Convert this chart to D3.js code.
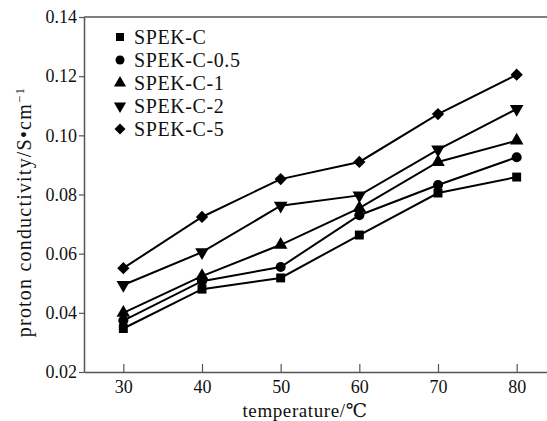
<!DOCTYPE html>
<html>
<head>
<meta charset="utf-8">
<script src="https://cdn.jsdelivr.net/npm/d3@7"></script>
<style>
  body { margin: 0; background: #fff; }
  svg text { font-family: "Liberation Serif", "DejaVu Serif", serif; }
</style>
</head>
<body>
<div id="chart"></div>
<script>
const temps = [30, 40, 50, 60, 70, 80];
const seriesNames = ["SPEK-C", "SPEK-C-0.5", "SPEK-C-1", "SPEK-C-2", "SPEK-C-5"];
const speKC   = [0.0347, 0.0480, 0.0518, 0.0663, 0.0805, 0.0859];
const speKC05 = [0.0374, 0.0507, 0.0555, 0.0730, 0.0832, 0.0926];
const speKC1  = [0.0400, 0.0524, 0.0630, 0.0754, 0.0910, 0.0982];
const speKC2  = [0.0494, 0.0605, 0.0762, 0.0797, 0.0952, 0.1089];
const speKC5  = [0.0551, 0.0724, 0.0852, 0.0910, 0.1072, 0.1205];
const yTicks = [0.02, 0.04, 0.06, 0.08, 0.10, 0.12, 0.14];
const xTicks = [30, 40, 50, 60, 70, 80];

const allSeries = [speKC, speKC05, speKC1, speKC2, speKC5];
// marker shapes: square, circle, triangle up, triangle down, diamond (rotated square)
const symbols = [d3.symbolSquare, d3.symbolCircle, d3.symbolTriangle, d3.symbolTriangle, d3.symbolSquare];
const rotations = [0, 0, 0, 180, 45];
const sizes = [80, 80, 80, 80, 75];

const W = 547, H = 421;
const svg = d3.select("#chart").append("svg")
  .attr("width", W).attr("height", H);

// plot box (right side runs off the canvas)
const x = d3.scaleLinear().domain([25, 85]).range([84, 556]);
const y = d3.scaleLinear().domain([0.02, 0.14]).range([372, 17]);

// top frame line
svg.append("line").attr("x1", x(25)).attr("x2", W).attr("y1", y(0.14)).attr("y2", y(0.14))
  .attr("stroke", "#555").attr("stroke-width", 1.5);

const yAxis = svg.append("g")
  .attr("transform", `translate(${x(25)},0)`)
  .call(d3.axisLeft(y).tickValues(yTicks).tickFormat(d3.format(".2f")).tickSize(5).tickSizeOuter(0));
yAxis.select(".domain").attr("stroke", "#555").attr("stroke-width", 1.5);
yAxis.selectAll(".tick line").attr("stroke", "#555").attr("stroke-width", 1.2);
yAxis.selectAll(".tick text").attr("font-size", "18px").attr("fill", "#111").attr("x", -7);

const xAxis = svg.append("g")
  .attr("transform", `translate(0,${y(0.02)})`)
  .call(d3.axisBottom(x).tickValues(xTicks).tickSize(0).tickSizeOuter(0));
xAxis.select(".domain").attr("stroke", "#555").attr("stroke-width", 1.5);
xAxis.selectAll(".tick line").attr("y2", -8).attr("stroke", "#555").attr("stroke-width", 1.2);
xAxis.selectAll(".tick text").attr("font-size", "18px").attr("fill", "#111").attr("y", 8);

// lines + markers
const line = d3.line().x((d, i) => x(temps[i])).y(d => y(d));
allSeries.forEach((vals, k) => {
  svg.append("path").datum(vals)
    .attr("d", line).attr("fill", "none")
    .attr("stroke", "#000").attr("stroke-width", 2);
  const sym = d3.symbol().type(symbols[k]).size(sizes[k]);
  svg.selectAll(null).data(vals).enter().append("path")
    .attr("d", sym)
    .attr("transform", (d, i) => `translate(${x(temps[i])},${y(d)}) rotate(${rotations[k]})`)
    .attr("fill", "#000");
});

// legend
const legend = svg.append("g").attr("transform", "translate(120,37)");
seriesNames.forEach((name, k) => {
  const g = legend.append("g").attr("transform", `translate(0,${k * 23})`);
  g.append("path")
    .attr("d", d3.symbol().type(symbols[k]).size(sizes[k] * 0.8))
    .attr("transform", `rotate(${rotations[k]})`)
    .attr("fill", "#000");
  g.append("text").attr("x", 14).attr("y", 7)
    .attr("font-size", "20px").attr("letter-spacing", "0.6px").attr("fill", "#111")
    .text(name);
});

// axis titles
svg.append("text")
  .attr("x", 305).attr("y", 417)
  .attr("text-anchor", "middle").attr("font-size", "19px").attr("fill", "#111")
  .attr("letter-spacing", "0.6px")
  .text("temperature/℃");

const yt = svg.append("text")
  .attr("transform", `translate(31,${212}) rotate(-90)`)
  .attr("text-anchor", "middle").attr("font-size", "20px").attr("fill", "#111")
  .attr("letter-spacing", "1.2px");
yt.append("tspan").text("proton conductivity/S•cm");
yt.append("tspan").attr("font-size", "13px").attr("baseline-shift", "super").text("−1");
</script>
</body>
</html>
